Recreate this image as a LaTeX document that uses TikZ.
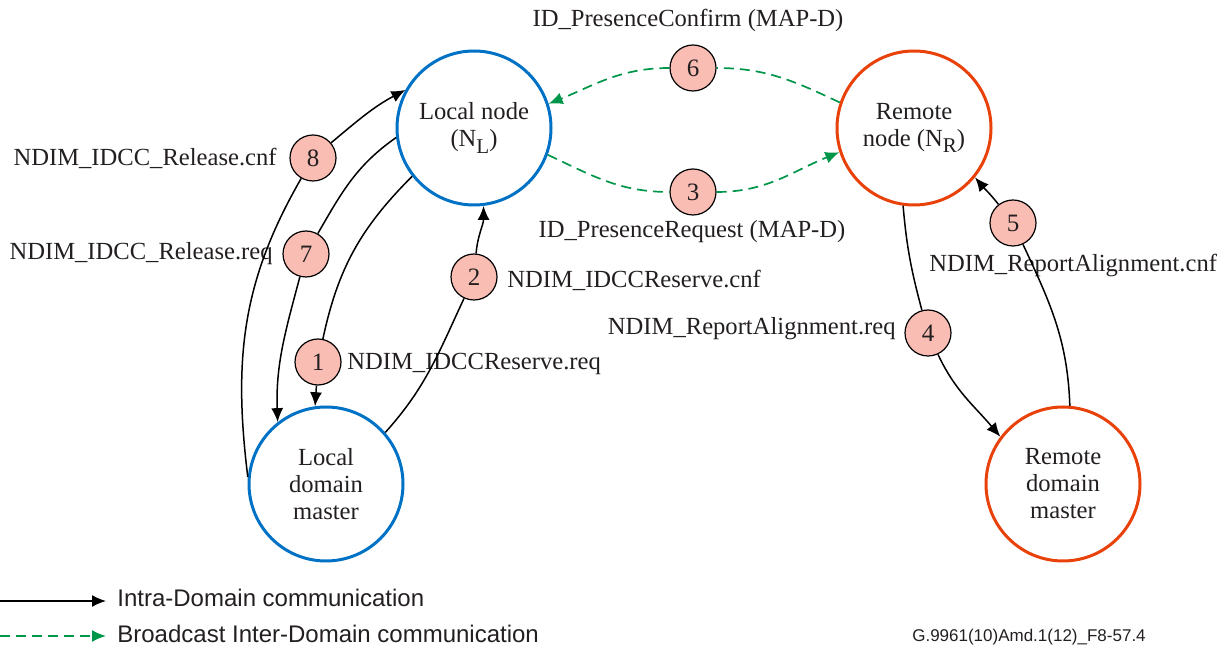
\documentclass[tikz,border=0pt]{standalone}
\usepackage{fontspec}
\setmainfont{Liberation Serif}
\setsansfont{Liberation Sans}
\usetikzlibrary{arrows.meta}
\definecolor{lblue}{HTML}{0072C6}
\definecolor{rorange}{HTML}{E8410A}
\definecolor{pinkfill}{HTML}{F9BDB3}
\definecolor{dgreen}{HTML}{00964A}
\definecolor{txt}{HTML}{231F20}
\newcommand{\mysubs}[1]{\raisebox{-0.6ex}{\fontsize{10.5}{11}\selectfont #1}}
\begin{document}
\begin{tikzpicture}[x=0.5pt,y=0.5pt,
  every node/.style={text=txt},
  bignode/.style={circle,line width=1.5pt,minimum size=77pt,inner sep=0pt,align=center,font=\fontsize{12.3}{13.5}\selectfont},
  localc/.style={bignode,draw=lblue},
  remotec/.style={bignode,draw=rorange},
  numc/.style={circle,draw=black,fill=pinkfill,line width=0.6pt,minimum size=23pt,inner sep=0pt,font=\fontsize{12.5}{14}\selectfont},
  lbl/.style={font=\fontsize{12.3}{14}\selectfont,inner sep=0pt},
  intra/.style={draw=black,line width=0.75pt,-{Latex[length=7pt,width=6pt]}},
  intraseg/.style={draw=black,line width=0.75pt},
  inter/.style={draw=dgreen,line width=0.85pt,dash pattern=on 5pt off 3pt,-{Latex[length=7pt,width=6pt]}},
  interseg/.style={draw=dgreen,line width=0.85pt,dash pattern=on 5pt off 3pt},
  leg/.style={font=\sffamily\fontsize{12}{14}\selectfont,anchor=base west,inner sep=0pt}
]
\useasboundingbox (0,0) rectangle (1227,-646);

% main nodes
\node[localc] (NL) at (474,-128) {Local node\\(N\mysubs{L})};
\node[remotec] (NR) at (914,-128) {Remote\\node (N\mysubs{R})};
\node[localc] (LDM) at (326,-484) {Local\\domain\\master};
\node[remotec] (RDM) at (1063,-484) {Remote\\domain\\master};

% numbered circles
\node[numc] (c1) at (318,-362) {1};
\node[numc] (c2) at (474,-277) {2};
\node[numc] (c3) at (693,-192) {3};
\node[numc] (c4) at (928,-333) {4};
\node[numc] (c5) at (1013,-223) {5};
\node[numc] (c6) at (693,-68) {6};
\node[numc] (c7) at (306,-254) {7};
\node[numc] (c8) at (313,-158) {8};

% labels
\node[lbl] (l6) at (688,-20) {ID\_PresenceConfirm (MAP-D)};
\node[lbl] (l3) at (692,-232) {ID\_PresenceRequest (MAP-D)};
\node[lbl,anchor=east] (l8) at (277,-158) {NDIM\_IDCC\_Release.cnf};
\node[lbl,anchor=east] (l7) at (273,-254) {NDIM\_IDCC\_Release.req};
\node[lbl,anchor=west] (l1) at (347,-364) {NDIM\_IDCCReserve.req};
\node[lbl,anchor=west] (l2) at (507,-280) {NDIM\_IDCCReserve.cnf};
\node[lbl,anchor=east] (l4) at (896,-329) {NDIM\_ReportAlignment.req};
\node[lbl,anchor=west] (l5) at (929,-265) {NDIM\_ReportAlignment.cnf};

% edge 1
\draw[intraseg] (NL.218) to[out=225,in=78] (c1);
\draw[intra] (c1) -- (LDM.98);
% edge 2
\draw[intraseg] (LDM.41) to[out=48,in=245] (c2);
\draw[intra] (c2) to[out=85,in=-90] (NL.277);
% edge 3
\draw[interseg] (NL.340) to[out=-25,in=180] (c3);
\draw[inter] (c3) to[out=0,in=202] (NR.198);
% edge 4
\draw[intraseg] (NR.262) to[out=-85,in=105] (c4);
\draw[intra] (c4) to[out=-65,in=130] (RDM.143);
% edge 5
\draw[intraseg] (RDM.85) to[out=92,in=-65] (c5);
\draw[intra] (c5) to[out=128,in=-50] (NR.321);
% edge 6
\draw[interseg] (NR.161) to[out=155,in=0] (c6);
\draw[inter] (c6) to[out=180,in=22] (NL.18);
% edge 7
\draw[intraseg] (NL.187) to[out=215,in=60] (c7);
\draw[intra] (c7) to[out=255,in=92] (LDM.128);
% edge 8
\draw[intraseg] (LDM.175) to[out=97,in=240] (c8);
\draw[intra] (c8) to[out=40,in=208] (NL.151);

% legend
\coordinate (a1) at (0,-601);
\coordinate (a2) at (106,-601);
\coordinate (b1) at (0,-636);
\coordinate (b2) at (106,-636);
\draw[intra] (a1) -- (a2);
\draw[inter] (b1) -- (b2);
\node[leg] (t1) at (117,-607) {Intra-Domain communication};
\node[leg] (t2) at (117,-642) {Broadcast Inter-Domain communication};
\node[font=\sffamily\fontsize{8.5}{10}\selectfont,inner sep=0pt,anchor=base] (ref) at (1029,-641) {G.9961(10)Amd.1(12)\_F8-57.4};
\end{tikzpicture}
\end{document}
